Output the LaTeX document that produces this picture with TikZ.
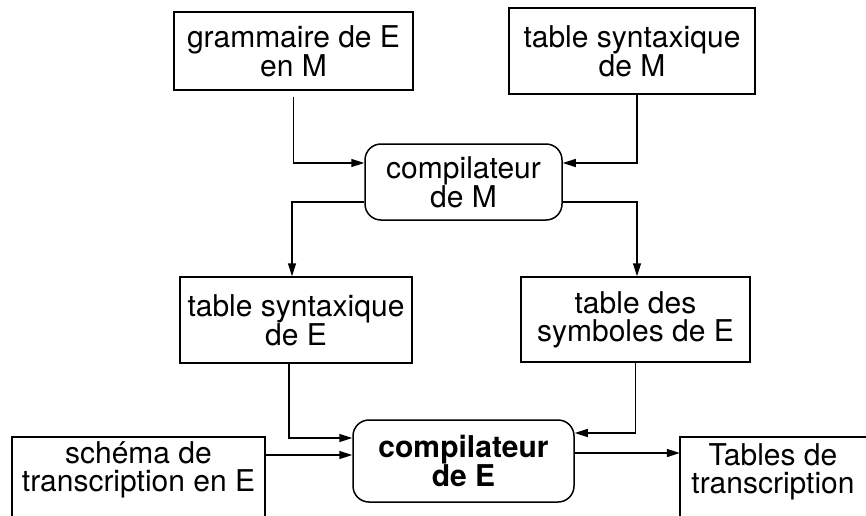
\documentclass[tikz,border=0pt]{standalone}
\usepackage{fontspec}
\setmainfont{TeX Gyre Heros}
\usetikzlibrary{arrows.meta,calc}
\begin{document}
\begin{tikzpicture}[x=1pt,y=1pt,
  txt/.style={font=\fontsize{30}{28}\selectfont, align=center, inner sep=0pt},
  sqbox/.style={txt, draw, line width=1.5pt},
  rbox/.style={sqbox, rounded corners=16pt},
  conn/.style={line width=1.5pt},
  arr/.style={conn, -{Triangle[length=13pt,width=8pt]}}]
\clip (0,0) rectangle (866,515);
\coordinate (bot) at (0,-10);
\coordinate (topy) at (0,78);
\coordinate (rightx) at (866,0);
\node[sqbox, minimum width=239pt, minimum height=78pt] (gram) at (293.5,464) {grammaire de E\\en M};
\node[sqbox, minimum width=246pt, minimum height=86pt] (tsm) at (632,464) {table syntaxique\\de M};
\node[rbox, minimum width=197pt, minimum height=76pt] (compM) at (463.5,333) {compilateur\\de M};
\node[sqbox, minimum width=232pt, minimum height=86pt] (tse) at (296,195) {table syntaxique\\de E};
\node[sqbox, minimum width=229pt, minimum height=85pt] (tsym) at (635.5,195.5) {table des\\symboles de E};
\node[rbox, minimum width=221pt, minimum height=82pt, font=\fontsize{30}{28}\selectfont\bfseries] (compE) at (463.5,54) {compilateur\\de E};
\node[txt, minimum width=253pt] (schema) at (138.5,45) {schéma de\\transcription en E};
\node[txt, minimum width=186pt] (tables) at (773,43) {Tables de\\transcription};
% open frames (cut by the picture edge)
\draw[conn] (schema.west |- bot) -- (schema.west |- topy) -- (schema.east |- topy) -- (schema.east |- bot);
\draw[conn] (tables.west |- bot) -- (tables.west |- topy) -- (rightx |- topy);
% connectors
\draw[arr] ([yshift=-6pt]gram.south) |- ([yshift=19pt]compM.west);
\draw[arr] ([xshift=5pt]tsm.south) |- ([yshift=19pt]compM.east);
\draw[arr] ([yshift=-20pt]compM.west) -| ([xshift=-4pt]tse.north);
\draw[arr] ([yshift=-20pt]compM.east) -| ([xshift=1.5pt]tsym.north);
\draw[arr] ([xshift=-7pt]tse.south) |- ([yshift=23pt]compE.west);
\draw[arr] (tsym.south) |- ([yshift=28pt]compE.east);
\draw[arr] ([yshift=15pt]schema.east) -- ([yshift=15pt]schema.east -| compE.west);
\draw[arr] ([yshift=8pt]compE.east) -- ([yshift=8pt]compE.east -| tables.west);
\end{tikzpicture}
\end{document}
